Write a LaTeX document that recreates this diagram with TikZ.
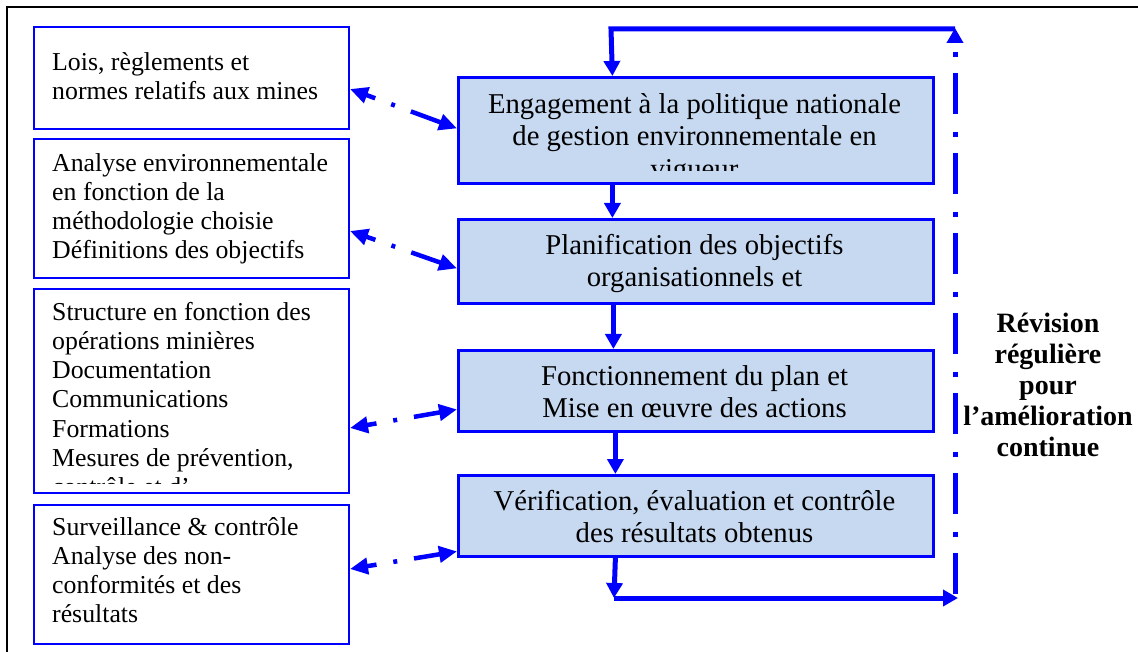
\documentclass[tikz,border=0pt]{standalone}
\usepackage{fontspec}
\setmainfont{Liberation Serif}
\usetikzlibrary{arrows.meta}
\definecolor{myblue}{RGB}{0,0,255}
\definecolor{boxfill}{RGB}{198,217,241}
\newcommand{\fstr}[1]{\rule{0pt}{#1}}
\begin{document}
\begin{tikzpicture}[x=1pt,y=-1pt,
 lbox/.style={draw=myblue, line width=2pt, fill=white, anchor=north west, inner sep=0pt, minimum width=315pt},
 rbox/.style={draw=myblue, line width=2.8pt, fill=boxfill, anchor=north west, inner sep=0pt, minimum width=475pt},
 ltext/.style={anchor=north west, inner sep=0pt, align=left, font=\fontsize{25.8pt}{29.2pt}\selectfont},
 rtext/.style={anchor=north, inner sep=0pt, align=center, font=\fontsize{28.7pt}{32.5pt}\selectfont},
 flow/.style={myblue, line width=5pt, -{Triangle[length=15pt,width=16pt]}},
 link/.style={myblue, line width=4.5pt, {Triangle[length=18pt,width=16pt]}-{Triangle[length=18pt,width=16pt]}, dash pattern=on 10pt off 17pt on 4pt off 17pt on 40pt},
 review/.style={myblue, line width=5pt, -{Triangle[length=15pt,width=16pt]}, dash pattern=on 41pt off 16pt on 5pt off 18pt},
 revtext/.style={anchor=north, inner sep=0pt, align=center, font=\fontsize{28pt}{31pt}\selectfont\bfseries}
]
\useasboundingbox (0,0) rectangle (1138,652);
\fill[white] (0,0) rectangle (1138,652);
% outer frame (top and left visible)
\draw[black, line width=2.5pt] (7,660) -- (7,7) -- (1145,7);

% left boxes
\node[lbox, minimum height=102pt] (L1) at (33,26) {};
\node[lbox, minimum height=139pt] (L2) at (33,138) {};
\node[lbox, minimum height=204pt] (L3) at (33,288) {};
\node[lbox, minimum height=139pt] (L4) at (33,504) {};

% right boxes
\node[rbox, minimum height=106pt] (A) at (457,76) {};
\node[rbox, minimum height=84pt] (B) at (457,218) {};
\node[rbox, minimum height=81pt] (C) at (457,349) {};
\node[rbox, minimum height=81pt] (D) at (457,474) {};

% left texts
\node[ltext] (T1) at (52,50) {\fstr{20pt}Lois, règlements et\\normes relatifs aux mines};
\node[ltext] (T2) at (52,151) {\fstr{20pt}Analyse environnementale\\en fonction de la\\méthodologie choisie\\Définitions des objectifs};
\begin{scope}
\clip (34,289) rectangle (347,483);
\node[ltext] (T3) at (52,300) {\fstr{20pt}Structure en fonction des\\opérations minières\\Documentation\\Communications\\Formations\\Mesures de prévention,\\contrôle et d’};
\end{scope}
\node[ltext] (T4) at (52,515) {\fstr{20pt}Surveillance \& contrôle\\Analyse des non-\\conformités et des\\résultats};

% right texts
\begin{scope}
\clip (459,78) rectangle (930,171);
\node[rtext] (TA) at (694.5,91) {\fstr{22pt}Engagement à la politique nationale\\de gestion environnementale en\\vigueur};
\end{scope}
\node[rtext] (TB) at (694.5,232) {\fstr{22pt}Planification des objectifs\\organisationnels et};
\node[rtext] (TC) at (694.5,363) {\fstr{22pt}Fonctionnement du plan et\\Mise en œuvre des actions};
\node[rtext] (TD) at (694.5,488) {\fstr{22pt}Vérification, évaluation et contrôle\\des résultats obtenus};

% review label
\node[revtext] (RV) at (1048,310) {\fstr{22pt}Révision\\régulière\\pour\\l’amélioration\\continue};

% dash-dot links
\draw[link] ([yshift=-11pt]L1.east) -- ([yshift=2pt]A.west);
\draw[link] ([yshift=-22.5pt]L2.east) -- ([yshift=-7pt]B.west);
\draw[link] ([yshift=-37pt]L3.east) -- ([yshift=-18.5pt]C.west);
\draw[link] ([yshift=5.5pt]L4.east) -- ([yshift=-35.5pt]D.west);

% main flow
\draw[flow] ([xshift=-83.5pt]A.south) -- ([xshift=-83.5pt]B.north);
\draw[flow] ([xshift=-82.5pt]B.south) -- ([xshift=-82.5pt]C.north);
\draw[flow] ([xshift=-80.5pt]C.south) -- ([xshift=-80.5pt]D.north);

% feedback loop
\coordinate (BL) at (614,598);
\coordinate (BR) at (958,598);
\coordinate (DB) at (955,594);
\coordinate (DT) at (955,28);
\coordinate (TR) at (955,29);
\coordinate (TL) at (611,29);
\draw[flow] ([xshift=-80.5pt]D.south) -- (BL);
\draw[flow] (BL) -- (BR);
\draw[review] (DB) -- (DT);
\draw[flow] (TR) -- (TL) -- ([xshift=-83.5pt]A.north);
\end{tikzpicture}
\end{document}
